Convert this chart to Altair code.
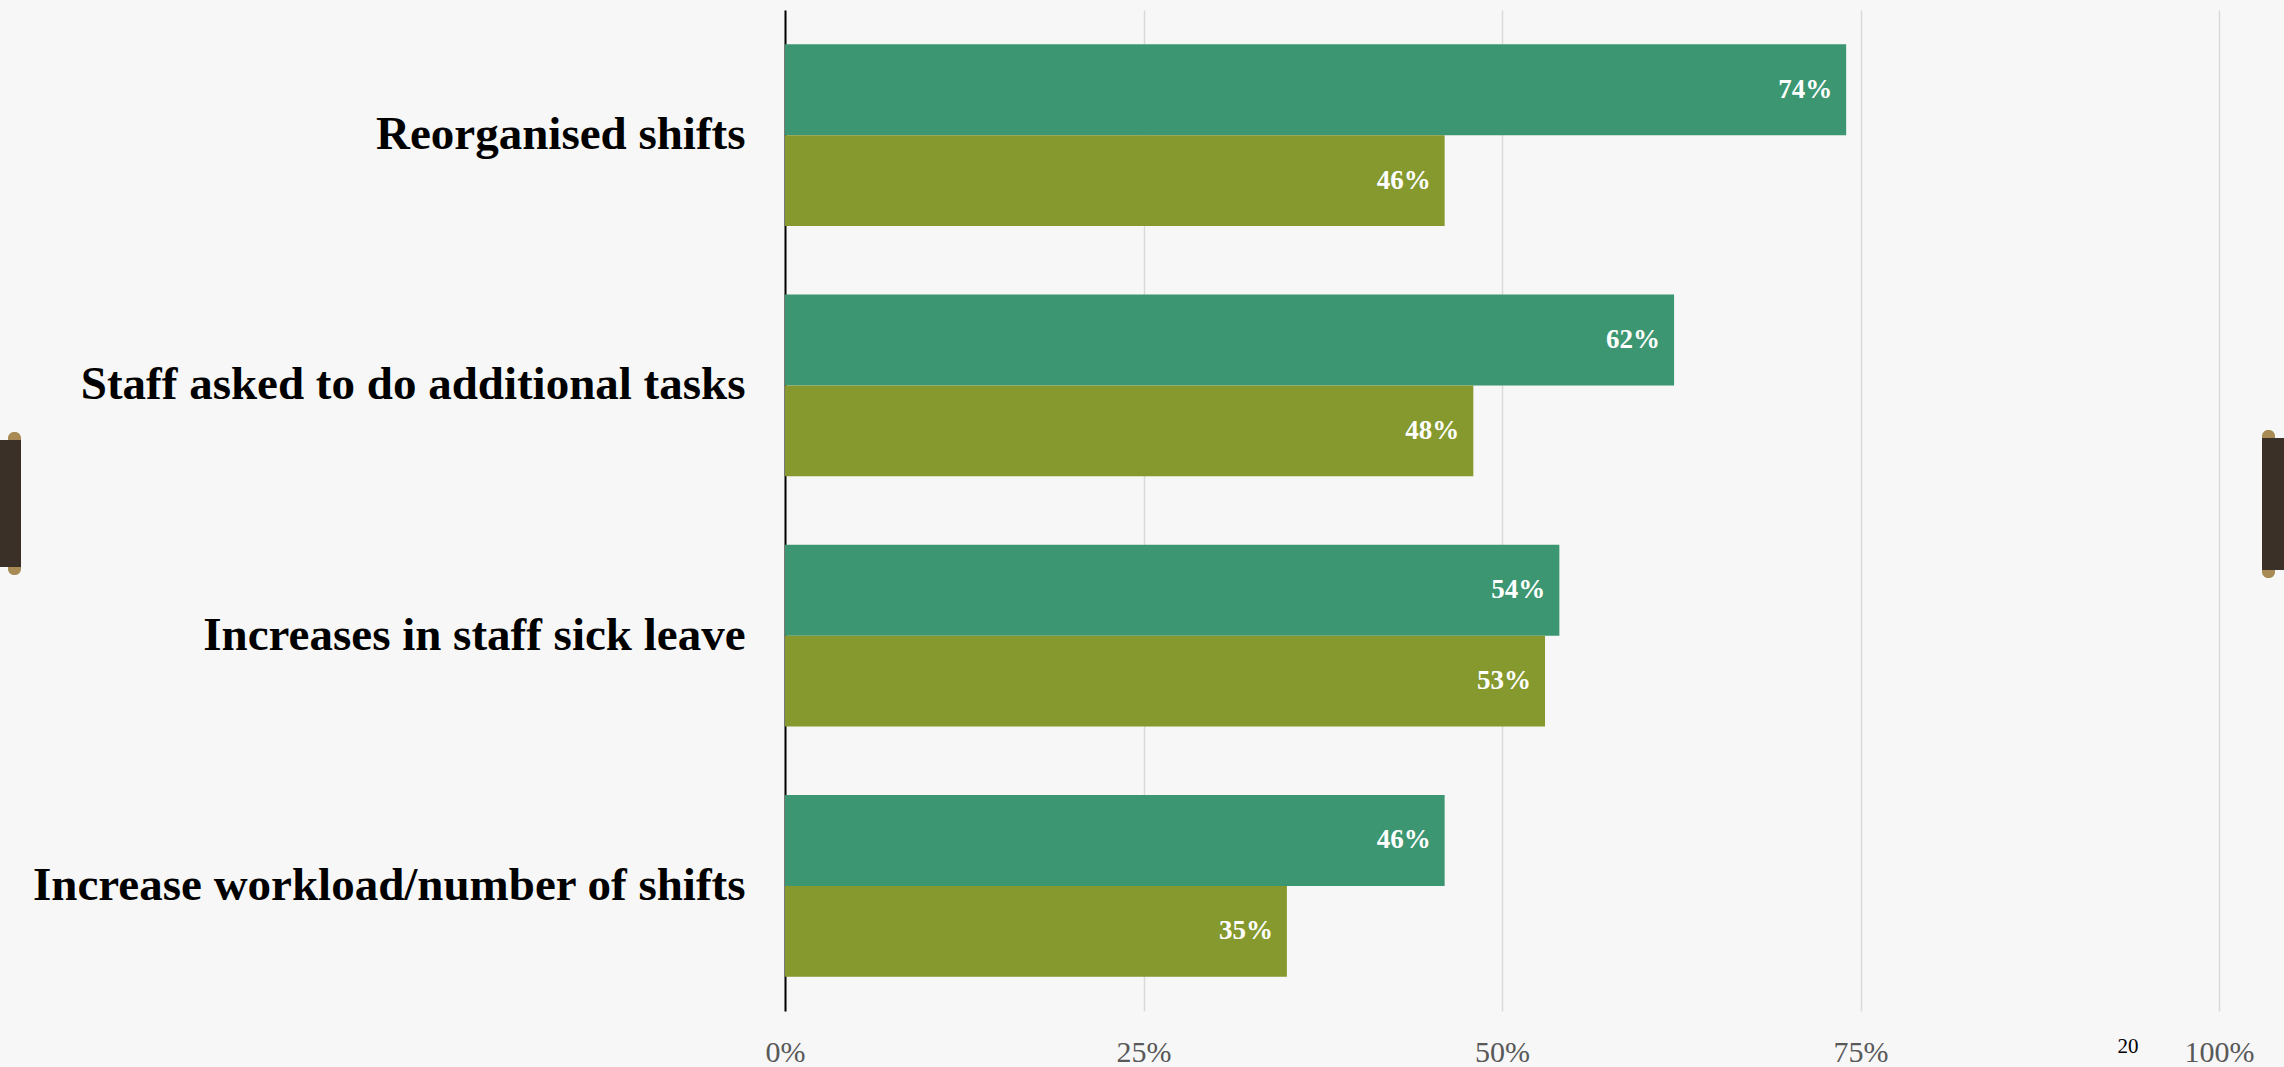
import altair as alt
import pandas as pd

categories = [
    "Reorganised shifts",
    "Staff asked to do additional tasks",
    "Increases in staff sick leave",
    "Increase workload/number of shifts",
]
series_names = ["Series 1", "Series 2"]
series_1 = [0.74, 0.62, 0.54, 0.46]
series_2 = [0.46, 0.48, 0.53, 0.35]
tick_values = [0, 0.25, 0.5, 0.75, 1.0]
colors = ["#3C9671", "#85992E"]

rows = []
for c, a, b in zip(categories, series_1, series_2):
    rows.append({"category": c, "series": series_names[0], "value": a})
    rows.append({"category": c, "series": series_names[1], "value": b})
df = pd.DataFrame(rows)

FONT = "Liberation Serif"

y_enc = alt.Y(
    "category:N",
    sort=categories,
    title=None,
    scale=alt.Scale(paddingInner=0.273, paddingOuter=0.1365),
    axis=alt.Axis(
        labelFont=FONT,
        labelFontWeight="bold",
        labelFontSize=47,
        labelColor="#000000",
        labelPadding=40,
        labelLimit=1000,
        ticks=False,
        domain=True,
        domainColor="#000000",
        domainWidth=2,
        grid=False,
    ),
)
yoff = alt.YOffset("series:N", sort=series_names,
                   scale=alt.Scale(paddingInner=0, paddingOuter=0))

x_enc = alt.X(
    "value:Q",
    title=None,
    scale=alt.Scale(domain=[0, 1], nice=False),
    axis=alt.Axis(
        values=tick_values,
        format=".0%",
        labelFont=FONT,
        labelFontSize=30,
        labelColor="#595959",
        labelPadding=26,
        labelFlush=False,
        labelOverlap=False,
        ticks=False,
        domain=False,
        grid=True,
        gridColor="#D9D9D9",
        gridWidth=1.5,
    ),
)

base = alt.Chart(df)

bars = base.mark_bar().encode(
    y=y_enc,
    yOffset=yoff,
    x=x_enc,
    color=alt.Color("series:N", sort=series_names,
                    scale=alt.Scale(domain=series_names, range=colors),
                    legend=None),
)

labels = base.mark_text(
    align="right", baseline="middle", dx=-14,
    font=FONT, fontWeight="bold", fontSize=27, color="#FFFFFF",
).encode(
    y=alt.Y("category:N", sort=categories),
    yOffset=yoff,
    x=alt.X("value:Q"),
    text=alt.Text("value:Q", format=".0%"),
)

one = alt.Chart(pd.DataFrame({"d": [0]}))
gold = "#A88A55"
dark = "#3A3027"
left_caps = one.mark_rect(color=gold, cornerRadius=6).encode(
    x=alt.value(-777), x2=alt.value(-764), y=alt.value(422), y2=alt.value(436))
left_caps2 = one.mark_rect(color=gold, cornerRadius=6).encode(
    x=alt.value(-777), x2=alt.value(-764), y=alt.value(551), y2=alt.value(565))
left_tab = one.mark_rect(color=dark).encode(
    x=alt.value(-785), x2=alt.value(-764), y=alt.value(430), y2=alt.value(557))
right_caps = one.mark_rect(color=gold, cornerRadius=6).encode(
    x=alt.value(1477), x2=alt.value(1490), y=alt.value(420), y2=alt.value(434))
right_caps2 = one.mark_rect(color=gold, cornerRadius=6).encode(
    x=alt.value(1477), x2=alt.value(1490), y=alt.value(554), y2=alt.value(568))
right_tab = one.mark_rect(color=dark).encode(
    x=alt.value(1477), x2=alt.value(1499), y=alt.value(428), y2=alt.value(560))
page_no = one.mark_text(
    font=FONT, fontSize=21, color="#000000", align="center", baseline="top"
).encode(x=alt.value(1343), y=alt.value(1026), text=alt.value("20"))

chart = alt.layer(
    bars, labels, left_caps, left_caps2, left_tab,
    right_caps, right_caps2, right_tab, page_no,
).properties(
    width=1434,
    height=1001,
    padding={"left": 785, "top": 10, "right": 65, "bottom": 56},
    autosize=alt.AutoSizeParams(type="none"),
    background="#F7F7F7",
).configure_view(stroke=None)

chart.save("out.html", embed_options={"renderer": "svg", "actions": False})
